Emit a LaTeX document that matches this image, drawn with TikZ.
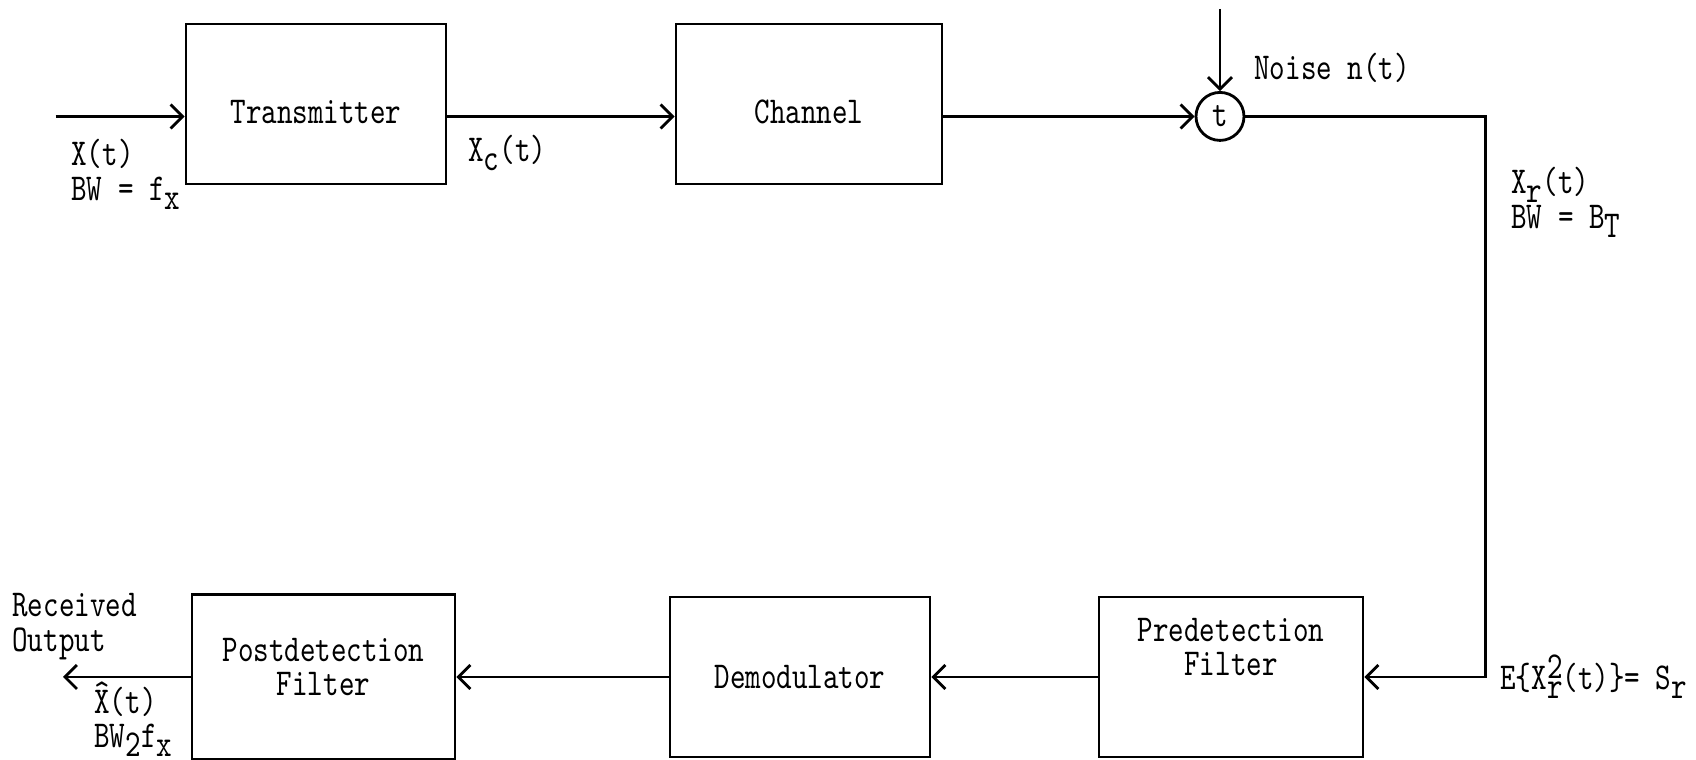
\documentclass[tikz,border=0pt]{standalone}
\usepackage{fontspec}
\setmonofont{lmmono10-regular.otf}[FakeStretch=0.78]
\usetikzlibrary{arrows.meta}
\newcommand{\tsub}[1]{\raisebox{-0.55ex}{#1}}
\newcommand{\tsup}[1]{\raisebox{0.7ex}{#1}}
\newcommand{\tthat}[1]{\rlap{\raisebox{0.22em}{\textasciicircum}}#1}
\begin{document}
\begin{tikzpicture}[
    font=\ttfamily\fontsize{10.8}{9.8}\selectfont,
    line width=0.8pt,
    >={Straight Barb[length=1.2mm, width=2.4mm]},
    block/.style={draw, minimum width=2.6cm, minimum height=1.6cm, align=center},
    topblock/.style={block, text height=0.45cm, text depth=0.05cm},
    lbl/.style={inner sep=0pt, align=left, anchor=north west}
]
    \useasboundingbox (0,0) rectangle (16.96,-7.60);

    % forward path
    \node[topblock] (tx) at (3.16,-1.04) {Transmitter};
    \node[topblock, right of=tx, xshift=3.93cm, minimum width=2.66cm] (ch) {Channel};
    \coordinate (in) at ([xshift=-1.29cm]tx.mid west);
    \coordinate (nz) at (12.20,-0.09);
    \node[draw, circle, minimum size=0.48cm, inner sep=0pt] (sum) at (tx.mid -| nz) {t};
    \coordinate (cr) at ([xshift=2.40cm]sum.east);

    % receiver
    \node[block, minimum width=2.64cm, text depth=0.6cm] (pre) at (12.31,-6.77) {Predetection\\Filter};
    \node[block, left of=pre, xshift=-3.31cm] (dem) {Demodulator};
    \node[block, left of=dem, xshift=-3.765cm, minimum width=2.63cm, minimum height=1.65cm, text depth=0.2cm] (post) {Postdetection\\Filter};
    \coordinate (out) at (0.63,-6.77);

    \draw[->] (in) -- (tx.mid west);
    \draw[->] (tx.mid east) -- (ch.mid west);
    \draw[->] (ch.mid east) -- (sum);
    \draw[->] (nz) -- (sum);
    \draw[->] (sum) -- (cr) |- (pre);
    \draw[->] (pre) -- (dem);
    \draw[->] (dem) -- (post);
    \draw[->] (post) -- (out);

    % labels
    \node[lbl] (xin) at (0.70,-1.38) {X(t)\\BW = f\tsub{x}};
    \node[lbl] (xc) at (4.67,-1.34) {X\tsub{c}(t)};
    \node[lbl, anchor=west] (noise) at (12.53,-0.68) {Noise n(t)};
    \node[lbl] (xr) at (15.10,-1.66) {X\tsub{r}(t)\\BW = B\tsub{T}};
    \node[lbl, anchor=base west] (pwr) at (14.99,-6.90) {E\{X\tsub{r}\llap{\tsup{2}}(t)\}= S\tsub{r}};
    \node[lbl] (rcv) at (0.11,-5.92) {Received\\Output};
    \node[lbl] (xhat) at (0.93,-6.80) {\tthat{X}(t)\\BW\tsub{2}f\tsub{x}};
\end{tikzpicture}
\end{document}
